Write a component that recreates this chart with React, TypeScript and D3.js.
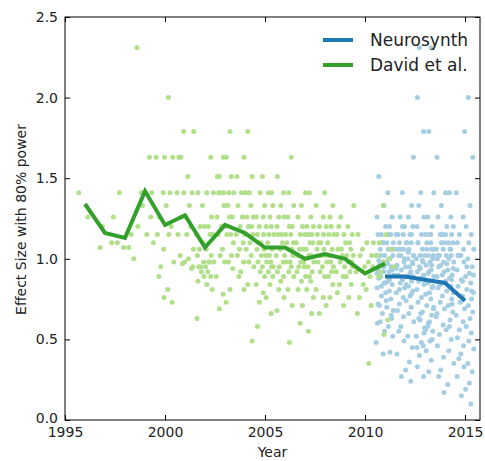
import * as d3 from "d3";
import React, { useEffect, useRef } from "react";

const width = 485;
const height = 461;
const margin = { top: 17, right: 5, bottom: 41, left: 65 };

const xTicks = [1995, 2000, 2005, 2010, 2015];
const yTicks = [0, 0.5, 1.0, 1.5, 2.0, 2.5];

// yearly averages (the two lines)
const davidYears = [1996, 1997, 1998, 1999, 2000, 2001, 2002, 2003, 2004, 2005, 2006, 2007, 2008, 2009, 2010, 2011];
const davidMeans = [1.34, 1.16, 1.13, 1.42, 1.21, 1.27, 1.07, 1.21, 1.16, 1.07, 1.07, 1.0, 1.03, 1.0, 0.91, 0.97];
const neuroYears = [2011, 2012, 2013, 2014, 2015];
const neuroMeans = [0.89, 0.89, 0.87, 0.85, 0.74];

// individual studies, one list per year (same order as the year arrays)
const davidPoints = [
  [1.41, 1.26],
  [1.26, 1.2, 1.1, 1.07],
  [1.41, 1.15, 1.1, 1.07, 1.07, 1.0],
  [2.31, 1.63, 1.41, 1.41, 1.26, 1.2, 1.15, 1.1, 1.33, 1.41],
  [2.0, 1.63, 1.63, 1.63, 1.41, 1.41, 1.33, 1.26, 1.2, 1.15, 1.15, 1.06, 0.98, 0.95, 0.89, 0.81, 0.76, 0.73],
  [1.79, 1.79, 1.63, 1.63, 1.51, 1.41, 1.41, 1.41, 1.33, 1.26, 1.26, 1.2, 1.15, 1.15, 1.06, 0.97, 0.94, 1.02, 1.0, 0.98, 0.95],
  [1.63, 1.41, 1.41, 1.41, 1.33, 1.26, 1.2, 1.2, 1.2, 1.15, 1.15, 1.15, 1.1, 1.06, 1.06, 1.02, 1.02, 0.98, 0.98, 0.98, 0.95, 0.95, 0.92, 0.89, 0.81, 0.63, 0.98, 0.95, 0.92, 0.89, 0.86, 0.84],
  [1.79, 1.63, 1.63, 1.51, 1.51, 1.51, 1.41, 1.41, 1.41, 1.41, 1.41, 1.33, 1.33, 1.26, 1.26, 1.26, 1.2, 1.2, 1.15, 1.15, 1.15, 1.1, 1.06, 1.02, 1.02, 0.98, 0.98, 0.94, 0.89, 0.81, 0.78, 0.73, 0.69],
  [1.79, 1.63, 1.51, 1.51, 1.41, 1.41, 1.41, 1.33, 1.33, 1.26, 1.26, 1.26, 1.2, 1.2, 1.2, 1.15, 1.15, 1.15, 1.1, 1.1, 1.06, 1.06, 1.02, 1.02, 0.98, 0.98, 0.95, 0.92, 0.89, 0.84, 0.81, 0.49],
  [1.51, 1.41, 1.41, 1.41, 1.33, 1.33, 1.26, 1.26, 1.26, 1.2, 1.2, 1.2, 1.15, 1.15, 1.15, 1.15, 1.1, 1.1, 1.1, 1.06, 1.06, 1.06, 1.02, 1.02, 1.02, 0.98, 0.98, 0.98, 0.95, 0.95, 0.95, 0.92, 0.92, 0.89, 0.89, 0.84, 0.84, 0.79, 0.76, 0.73, 0.66, 0.58],
  [1.63, 1.51, 1.41, 1.41, 1.33, 1.33, 1.26, 1.26, 1.26, 1.2, 1.2, 1.2, 1.15, 1.15, 1.15, 1.15, 1.1, 1.1, 1.1, 1.06, 1.06, 1.06, 1.02, 1.02, 1.02, 0.98, 0.98, 0.98, 0.95, 0.95, 0.92, 0.92, 0.89, 0.89, 0.86, 0.81, 0.81, 0.76, 0.71, 0.68, 0.48],
  [1.41, 1.41, 1.33, 1.26, 1.26, 1.2, 1.2, 1.2, 1.15, 1.15, 1.15, 1.15, 1.1, 1.1, 1.1, 1.06, 1.06, 1.06, 1.02, 1.02, 1.02, 0.98, 0.98, 0.98, 0.95, 0.95, 0.95, 0.92, 0.92, 0.89, 0.89, 0.86, 0.86, 0.81, 0.81, 0.76, 0.71, 0.66, 0.6, 0.55],
  [1.41, 1.33, 1.33, 1.26, 1.26, 1.2, 1.2, 1.2, 1.15, 1.15, 1.15, 1.15, 1.1, 1.1, 1.1, 1.06, 1.06, 1.06, 1.02, 1.02, 1.02, 0.98, 0.98, 0.98, 0.95, 0.95, 0.92, 0.92, 0.89, 0.89, 0.84, 0.81, 0.76, 0.76, 0.71, 0.66],
  [1.33, 1.26, 1.2, 1.2, 1.15, 1.15, 1.15, 1.1, 1.1, 1.06, 1.06, 1.06, 1.02, 1.02, 1.02, 0.98, 0.98, 0.98, 0.95, 0.95, 0.92, 0.92, 0.89, 0.89, 0.84, 0.84, 0.79, 0.76, 0.71],
  [1.15, 1.1, 1.1, 1.06, 1.02, 1.02, 0.98, 0.95, 0.95, 0.92, 0.89, 0.84, 0.81, 0.76, 0.71, 0.66, 0.35],
  [1.33, 1.15, 1.1, 1.06, 1.02, 1.0, 0.98, 0.95, 0.92, 0.89, 0.62, 0.53],
];

const neuroPoints = [
  [1.51, 1.41, 1.33, 1.26, 1.26, 1.2, 1.2, 1.15, 1.15, 1.15, 1.1, 1.1, 1.1, 1.06, 1.06, 1.06, 1.02, 1.02, 1.02, 1.0, 0.98, 0.98, 0.96, 0.95, 0.94, 0.92, 0.92, 0.9, 0.89, 0.88, 0.86, 0.85, 0.84, 0.82, 0.8, 0.79, 0.77, 0.75, 0.72, 0.7, 0.68, 0.66, 0.63, 0.61, 0.58, 0.55, 0.52, 0.48, 0.42, 0.41, 0.74, 0.71, 0.65, 0.6,
    1.15, 1.1, 1.06, 1.02, 0.99, 0.97, 0.95, 0.93, 0.91, 0.87, 0.85, 0.83],
  [1.63, 1.41, 1.33, 1.26, 1.26, 1.2, 1.2, 1.15, 1.15, 1.15, 1.1, 1.1, 1.1, 1.06, 1.06, 1.06, 1.02, 1.02, 1.02, 1.0, 0.98, 0.98, 0.96, 0.95, 0.95, 0.93, 0.92, 0.9, 0.89, 0.89, 0.87, 0.86, 0.85, 0.83, 0.82, 0.8, 0.79, 0.77, 0.76, 0.74, 0.72, 0.7, 0.68, 0.66, 0.64, 0.61, 0.58, 0.55, 0.52, 0.49, 0.45, 0.41, 0.36, 0.31, 0.27, 0.24, 1.15, 1.1, 1.02,
    1.2, 1.15, 1.06, 1.04, 1.0, 0.97, 0.94, 0.91, 0.88, 0.84, 0.81, 0.78],
  [2.31, 2.31, 2.0, 1.79, 1.79, 1.41, 1.41, 1.33, 1.26, 1.26, 1.2, 1.2, 1.15, 1.15, 1.15, 1.1, 1.1, 1.1, 1.06, 1.06, 1.06, 1.02, 1.02, 1.02, 1.0, 1.0, 0.98, 0.98, 0.96, 0.95, 0.93, 0.92, 0.92, 0.9, 0.89, 0.88, 0.86, 0.85, 0.84, 0.82, 0.81, 0.79, 0.78, 0.76, 0.75, 0.73, 0.71, 0.69, 0.67, 0.65, 0.62, 0.6, 0.57, 0.55, 0.52, 0.49, 0.46, 0.43, 0.4, 0.37, 0.33, 0.3, 0.27, 0.7, 0.66, 0.63, 0.58, 0.54, 0.5, 0.45, 0.61, 0.56, 0.48,
    1.15, 1.1, 1.06, 1.02, 0.99, 0.96, 0.94, 0.91, 0.87, 0.83],
  [1.63, 1.41, 1.41, 1.33, 1.26, 1.26, 1.2, 1.2, 1.15, 1.15, 1.15, 1.1, 1.1, 1.1, 1.06, 1.06, 1.06, 1.02, 1.02, 1.02, 1.0, 1.0, 0.98, 0.98, 0.96, 0.95, 0.93, 0.92, 0.9, 0.89, 0.88, 0.86, 0.85, 0.83, 0.82, 0.8, 0.79, 0.77, 0.75, 0.73, 0.71, 0.69, 0.67, 0.64, 0.62, 0.59, 0.56, 0.53, 0.5, 0.46, 0.43, 0.39, 0.35, 0.31, 0.27, 0.22, 0.17, 0.72, 0.66, 0.58,
    1.15, 1.1, 1.06, 1.02, 0.97, 0.94, 0.9, 0.87, 0.84],
  [2.0, 1.79, 1.63, 1.41, 1.33, 1.26, 1.2, 1.15, 1.15, 1.1, 1.1, 1.06, 1.06, 1.02, 1.02, 1.0, 0.98, 0.95, 0.93, 0.91, 0.89, 0.87, 0.85, 0.83, 0.81, 0.79, 0.77, 0.75, 0.73, 0.71, 0.69, 0.67, 0.65, 0.63, 0.61, 0.58, 0.56, 0.54, 0.51, 0.49, 0.46, 0.44, 0.41, 0.38, 0.35, 0.33, 0.3, 0.27, 0.23, 0.19, 0.15, 0.1,
    1.02, 0.95, 0.9, 0.86, 0.8],
];

// fixed horizontal spread of the dots inside a year (fraction of a year)
const jitter = [-0.31, 0.14, -0.05, 0.36, -0.4, 0.22, 0.03, -0.18, 0.29, -0.35, 0.09, 0.42, -0.13, 0.33, -0.24, 0.17, -0.02, 0.39, -0.44, 0.25, -0.09, 0.06, -0.28, 0.31, -0.38, 0.19, -0.07, 0.44, -0.21];

const colors = {
  neuroLine: "#1f78b4",
  neuroDot: "#a6cee3",
  davidLine: "#33a02c",
  davidDot: "#b2df8a",
};

const font = "'DejaVu Sans', sans-serif";

const xScale = d3
  .scaleLinear()
  .domain([1995, 2015.75])
  .range([margin.left, width - margin.right]);

const yScale = d3
  .scaleLinear()
  .domain([0, 2.5])
  .range([height - margin.bottom, margin.top]);

const toDots = (years: number[], groups: number[][]) =>
  groups.flatMap((vals, k) =>
    vals.map((v, i) => ({
      x: years[k] + jitter[(i + k * 11) % jitter.length],
      y: v,
    }))
  );

const App = () => {
  const xAxisRef = useRef<SVGGElement>(null);
  const yAxisRef = useRef<SVGGElement>(null);
  const topAxisRef = useRef<SVGGElement>(null);
  const rightAxisRef = useRef<SVGGElement>(null);

  useEffect(() => {
    document.body.style.margin = "0";
  }, []);

  // Draw the axis
  useEffect(() => {
    const style = (g: d3.Selection<SVGGElement, unknown, null, undefined>) => {
      g.select(".domain").remove();
      g.selectAll("line").attr("stroke", "#000");
      g.selectAll("text")
        .attr("fill", "#222")
        .style("font-family", font)
        .style("font-size", "14px");
    };
    if (xAxisRef.current) {
      const xAxis = d3
        .axisBottom(xScale)
        .tickValues(xTicks)
        .tickFormat(d3.format("d"))
        .tickSizeInner(-5)
        .tickSizeOuter(0)
        .tickPadding(7);
      d3.select(xAxisRef.current).call(xAxis).call(style);
    }
    if (yAxisRef.current) {
      const yAxis = d3
        .axisLeft(yScale)
        .tickValues(yTicks)
        .tickFormat(d3.format(".1f"))
        .tickSizeInner(-5)
        .tickSizeOuter(0)
        .tickPadding(7);
      d3.select(yAxisRef.current).call(yAxis).call(style);
      // matplotlib nudges the bottom label up a little
      d3.select(yAxisRef.current)
        .selectAll<SVGGElement, number>(".tick")
        .filter((d) => d === 0)
        .select("text")
        .attr("dy", "0.2em");
    }
    if (topAxisRef.current) {
      const topAxis = d3
        .axisTop(xScale)
        .tickValues(xTicks)
        .tickFormat(() => "")
        .tickSizeInner(-5)
        .tickSizeOuter(0);
      d3.select(topAxisRef.current).call(topAxis).call(style);
    }
    if (rightAxisRef.current) {
      const rightAxis = d3
        .axisRight(yScale)
        .tickValues(yTicks)
        .tickFormat(() => "")
        .tickSizeInner(-5)
        .tickSizeOuter(0);
      d3.select(rightAxisRef.current).call(rightAxis).call(style);
    }
  }, []);

  const line = d3
    .line<[number, number]>()
    .x((d) => xScale(d[0]))
    .y((d) => yScale(d[1]));

  const davidDots = toDots(davidYears, davidPoints);
  const neuroDots = toDots(neuroYears, neuroPoints);

  const plotBottom = height - margin.bottom;
  const plotRight = width - margin.right;

  return (
    <svg width={width} height={height} style={{ display: "block", background: "#fff" }}>
      {neuroDots.map((d, i) => (
        <circle key={"n" + i} cx={xScale(d.x)} cy={yScale(d.y)} r={2.5} fill={colors.neuroDot} />
      ))}
      {davidDots.map((d, i) => (
        <circle key={"d" + i} cx={xScale(d.x)} cy={yScale(d.y)} r={2.5} fill={colors.davidDot} />
      ))}
      <path
        d={line(neuroYears.map((y, i) => [y, neuroMeans[i]]) as [number, number][]) || ""}
        fill="none"
        stroke={colors.neuroLine}
        strokeWidth={4}
      />
      <path
        d={line(davidYears.map((y, i) => [y, davidMeans[i]]) as [number, number][]) || ""}
        fill="none"
        stroke={colors.davidLine}
        strokeWidth={4}
      />

      <rect
        x={margin.left}
        y={margin.top}
        width={plotRight - margin.left}
        height={plotBottom - margin.top}
        fill="none"
        stroke="#000"
        strokeWidth={1}
      />
      <g ref={xAxisRef} transform={`translate(0, ${plotBottom})`} />
      <g ref={yAxisRef} transform={`translate(${margin.left}, 0)`} />
      <g ref={topAxisRef} transform={`translate(0, ${margin.top})`} />
      <g ref={rightAxisRef} transform={`translate(${plotRight}, 0)`} />

      <text
        x={(margin.left + plotRight) / 2}
        y={457}
        textAnchor="middle"
        fontFamily={font}
        fontSize={14}
        fill="#222"
      >
        Year
      </text>
      <text
        transform={`translate(26, ${(margin.top + plotBottom) / 2 + 1}) rotate(-90)`}
        textAnchor="middle"
        fontFamily={font}
        fontSize={14}
        fill="#222"
      >
        Effect Size with 80% power
      </text>

      {/* legend */}
      <g fontFamily={font} fontSize={17} fill="#222">
        <line x1={323} x2={353} y1={40} y2={40} stroke={colors.neuroLine} strokeWidth={4} />
        <text x={370} y={46}>Neurosynth</text>
        <line x1={323} x2={353} y1={65} y2={65} stroke={colors.davidLine} strokeWidth={4} />
        <text x={370} y={71}>David et al.</text>
      </g>
    </svg>
  );
};

export default App;
